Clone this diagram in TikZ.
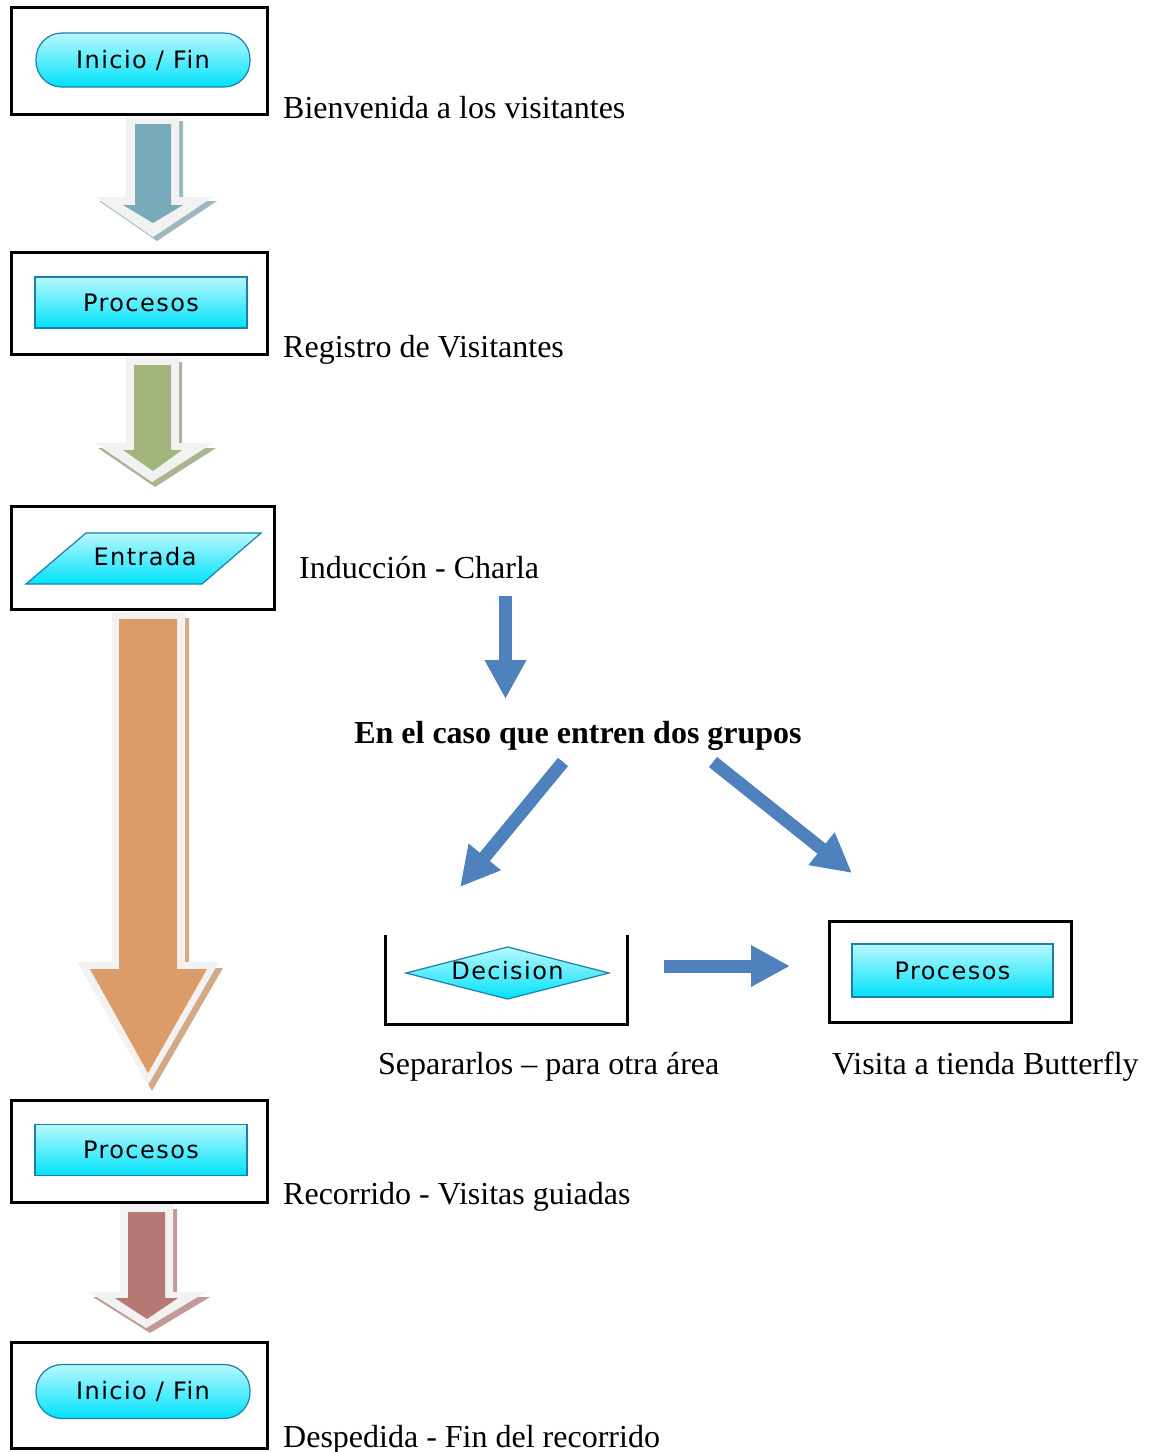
\documentclass[tikz,border=0pt]{standalone}
\usepackage{fontspec}
\setmainfont{Liberation Serif}
\newfontfamily\shp{DejaVu Sans}[LetterSpace=6]
\usetikzlibrary{arrows.meta}
\definecolor{tealA}{HTML}{78AAB9}
\definecolor{tealS}{HTML}{9DB8C0}
\definecolor{greenA}{HTML}{A2B57C}
\definecolor{greenS}{HTML}{A9B590}
\definecolor{orangeA}{HTML}{DB9C69}
\definecolor{orangeS}{HTML}{D4A985}
\definecolor{roseA}{HTML}{B57873}
\definecolor{roseS}{HTML}{C29A98}
\definecolor{lightB}{HTML}{F2F2F2}
\definecolor{blueA}{HTML}{4F81BD}
\definecolor{cyanT}{HTML}{B8F8FF}
\definecolor{cyanB}{HTML}{00E2FA}
\definecolor{cyanD}{HTML}{1A80A8}
\tikzset{
  frame/.style={draw=black, line width=3pt, fill=white, inner sep=0pt},
  sym/.style={draw=cyanD, line width=1.2pt, top color=cyanT, bottom color=cyanB},
  pill/.style={sym, rounded corners=26pt, minimum width=214pt, minimum height=54pt, inner sep=0pt, font=\shp\fontsize{24}{27}\selectfont},
  proc/.style={sym, minimum width=212pt, minimum height=51pt, inner sep=0pt, font=\shp\fontsize{24}{27}\selectfont},
  symtext/.style={inner sep=0pt, font=\shp\fontsize{24}{27}\selectfont},
  lbl/.style={inner sep=0pt, anchor=base west, font=\fontsize{32}{36}\selectfont},
  blbl/.style={inner sep=0pt, anchor=base, font=\bfseries\fontsize{32}{36}\selectfont},
  bluearrow/.style={draw=blueA, line width=13pt, -{Triangle[length=39pt,width=39pt]}},
}
\begin{document}
\begin{tikzpicture}[x=1pt,y=-1pt]
\useasboundingbox (0,0) rectangle (1149,1452);

% ---------- frames ----------
\node[frame, minimum width=256pt, minimum height=107pt] (f1) at (139,61) {};
\node[frame, minimum width=256pt, minimum height=102pt] (f2) at (139,303) {};
\node[frame, minimum width=263pt, minimum height=103pt] (f3) at (142.5,557.5) {};
\node[frame, minimum width=256pt, minimum height=102pt] (f4) at (139,1151) {};
\node[frame, minimum width=256pt, minimum height=106pt] (f5) at (139,1395) {};
\node[frame, minimum width=242pt, minimum height=101pt] (f6) at (950,971.5) {};

% ---------- symbols ----------
\node[pill] (s1) at (143,60) {Inicio / Fin};
\node[proc] (s2) at (141,302.5) {Procesos};
\draw[sym] (86,533) -- (261,533) -- (202,584) -- (26,584) -- cycle;
\node[symtext] (s3) at (145,557) {Entrada};
\node[proc] (s4) at (141,1150) {Procesos};
\node[pill] (s5) at (143,1391.5) {Inicio / Fin};
\node[proc, minimum width=201pt, minimum height=53pt] (s6) at (952.5,970.5) {Procesos};

% decision open box
\draw[line width=3pt] (385,935) -- (385,1024) -- (627,1024) -- (627,935);
\draw[sym] (406,973) -- (507.5,947) -- (609,973) -- (507.5,999) -- cycle;
\node[symtext] (s7) at (507.5,971) {Decision};

% ---------- labels ----------
\node[lbl] (t1) at (283,118) {Bienvenida a los visitantes};
\node[lbl] (t2) at (283,357) {Registro de Visitantes};
\node[lbl] (t3) at (299,578) {Inducción - Charla};
\node[blbl] (t4) at (578,743) {En el caso que entren dos grupos};
\node[lbl] (t5) at (378,1074) {Separarlos – para otra área};
\node[lbl] (t6) at (832,1074) {Visita a tienda Butterfly};
\node[lbl] (t7) at (283,1204) {Recorrido - Visitas guiadas};
\node[lbl] (t8) at (283,1447) {Despedida - Fin del recorrido};

% ---------- block arrows ----------
% arrow 1 (teal)
\fill[tealS, shift={(4,4)}] (126,117) -- (179,117) -- (179,197) -- (213,197) -- (153,237) -- (95,197) -- (126,197) -- cycle;
\fill[lightB] (126,117) -- (179,117) -- (179,197) -- (213,197) -- (153,237) -- (95,197) -- (126,197) -- cycle;
\fill[tealA] (135,124) -- (171,124) -- (171,205) -- (183,205) -- (153,223) -- (123,205) -- (135,205) -- cycle;
% arrow 2 (green)
\fill[greenS, shift={(3,5)}] (126,357) -- (179,357) -- (179,443) -- (213,443) -- (152,482) -- (95,443) -- (126,443) -- cycle;
\fill[lightB] (126,357) -- (179,357) -- (179,443) -- (213,443) -- (152,482) -- (95,443) -- (126,443) -- cycle;
\fill[greenA] (134,365) -- (171,365) -- (171,450) -- (182,450) -- (153,471) -- (123,450) -- (134,450) -- cycle;
% arrow 3 (orange)
\fill[orangeS, shift={(4,6)}] (112,612) -- (185,612) -- (185,962) -- (219,962) -- (148,1085) -- (77,962) -- (112,962) -- cycle;
\fill[lightB] (112,612) -- (185,612) -- (185,962) -- (219,962) -- (148,1085) -- (77,962) -- (112,962) -- cycle;
\fill[orangeA] (119,619) -- (177,619) -- (177,969) -- (207,969) -- (148,1073) -- (90,969) -- (119,969) -- cycle;
% arrow 4 (rose)
\fill[roseS, shift={(4,5)}] (120,1204) -- (173,1204) -- (173,1292) -- (206,1292) -- (146,1328) -- (89,1292) -- (120,1292) -- cycle;
\fill[lightB] (120,1204) -- (173,1204) -- (173,1292) -- (206,1292) -- (146,1328) -- (89,1292) -- (120,1292) -- cycle;
\fill[roseA] (128,1212) -- (165,1212) -- (165,1298) -- (178,1298) -- (147,1319) -- (115,1298) -- (128,1298) -- cycle;

% ---------- blue arrows ----------
\coordinate (b1s) at (505.5,596);
\coordinate (b1e) at (505.5,699);
\coordinate (b2s) at (563,762);
\coordinate (b2e) at (460,887);
\coordinate (b3s) at (713,762);
\coordinate (b3e) at (852,873);
\coordinate (b4s) at (664,966);
\coordinate (b4e) at (790,966);
\draw[bluearrow] (b1s) -- (b1e);
\draw[bluearrow] (b2s) -- (b2e);
\draw[bluearrow] (b3s) -- (b3e);
\draw[bluearrow] (b4s) -- (b4e);
\end{tikzpicture}
\end{document}
